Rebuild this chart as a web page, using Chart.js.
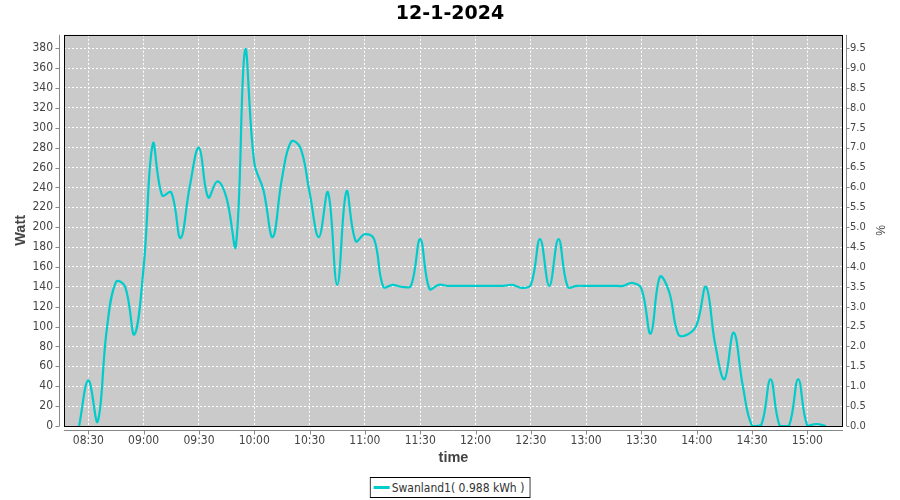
<!DOCTYPE html>
<html>
<head>
<meta charset="utf-8">
<script src="https://cdn.jsdelivr.net/npm/chart.js@4.4.1/dist/chart.umd.min.js"></script>
<style>
  body { margin: 0; background: #fff; }
  #wrap { position: relative; width: 900px; height: 500px; background: #fff; }
  #legend {
    position: absolute; top: 477px; left: 50%; transform: translateX(-50%);
    height: 19px; border: 1px solid #000; background: #fff;
    display: flex; align-items: center; padding: 0 5px 0 3px;
    font: 12px 'DejaVu Sans Condensed', 'Liberation Sans', sans-serif; color: #333; white-space: nowrap;
  }
  #legend .swatch { display: inline-block; width: 16px; height: 3px; margin-right: 2px; }
</style>
</head>
<body>
<div id="wrap">
  <canvas id="chartCanvas" width="900" height="500"></canvas>
  <div id="legend"></div>
</div>
<script>
// data (5 minute samples)
const times = ['08:25','08:30','08:35','08:40','08:45','08:50','08:55','09:00','09:05',
  '09:10','09:15','09:20','09:25','09:30','09:35','09:40','09:45','09:50','09:55',
  '10:00','10:05','10:10','10:15','10:20','10:25','10:30','10:35','10:40','10:45',
  '10:50','10:55','11:00','11:05','11:10','11:15','11:20','11:25','11:30','11:35',
  '11:40','11:45','11:50','11:55','12:00','12:05','12:10','12:15','12:20','12:25',
  '12:30','12:35','12:40','12:45','12:50','12:55','13:00','13:05','13:10','13:15',
  '13:20','13:25','13:30','13:35','13:40','13:45','13:50','13:55','14:00','14:05',
  '14:10','14:15','14:20','14:25','14:30','14:35','14:40','14:45','14:50','14:55',
  '15:00','15:05','15:10'];
const watts = [0, 46, 4, 97, 145, 140, 92, 160, 284,
  232, 235, 189, 241, 280, 230, 246, 229, 181, 378,
  265, 237, 190, 249, 286, 280, 235, 190, 235, 142,
  236, 186, 193, 188, 140, 142, 140, 141, 188, 138,
  142, 141, 141, 141, 141, 141, 141, 141, 142, 139,
  142, 188, 141, 188, 140, 141, 141, 141, 141, 141,
  141, 144, 138, 93, 150, 135, 92, 92, 102, 140,
  82, 47, 94, 40, 0, 1, 47, 0, 0, 47,
  0, 2, 0];
const seriesName = 'Swanland1( 0.988 kWh )';
const chartTitle = '12-1-2024';

//helpers
function toMinutes(t){
    const p=t.split(':');
    return parseInt(p[0])*60+parseInt(p[1]);
}
function pad(n){
    return (n<10?'0':'')+n;
}

const lineColor='#00cccc';
const textColor='#444444';
const tickFont={family:"'DejaVu Sans Condensed', 'Liberation Sans', sans-serif", size:12};
const points=times.map((t,i)=>({x:toMinutes(t),y:watts[i]}));

//plot background, frame, axis lines and tick marks
const plotFrame={
    id:'plotFrame',
    beforeDraw(chart){
        const {ctx,chartArea:a}=chart;
        ctx.save();
        ctx.fillStyle='#cacaca';
        ctx.fillRect(a.left,a.top,a.right-a.left,a.bottom-a.top);
        ctx.restore();
    },
    afterDatasetsDraw(chart){
        const {ctx,chartArea:a}=chart;
        ctx.save();
        ctx.strokeStyle='#000';
        ctx.lineWidth=1;
        ctx.strokeRect(Math.round(a.left)+0.5,Math.round(a.top)+0.5,Math.round(a.right-a.left)-1,Math.round(a.bottom-a.top));
        ctx.restore();
    },
    afterDraw(chart){
        const {ctx,chartArea:a,scales}=chart;
        const l=Math.round(a.left)-4.5, r=Math.round(a.right)+3.5, b=Math.round(a.bottom)+4.5;
        ctx.save();
        ctx.strokeStyle='#888';
        ctx.lineWidth=1;
        ctx.beginPath();
        ctx.moveTo(l,a.top);ctx.lineTo(l,a.bottom);
        ctx.moveTo(r,a.top);ctx.lineTo(r,a.bottom);
        ctx.moveTo(a.left,b);ctx.lineTo(a.right,b);
        scales.y.ticks.forEach(t=>{
            const py=Math.round(scales.y.getPixelForValue(t.value))+0.5;
            ctx.moveTo(l-4,py);ctx.lineTo(l,py);
        });
        scales.y1.ticks.forEach(t=>{
            const py=Math.round(scales.y1.getPixelForValue(t.value))+0.5;
            ctx.moveTo(r,py);ctx.lineTo(r+3,py);
        });
        scales.x.ticks.forEach(t=>{
            const px=Math.round(scales.x.getPixelForValue(t.value))+0.5;
            ctx.moveTo(px,b);ctx.lineTo(px,b+4);
        });
        ctx.stroke();
        ctx.restore();
    }
};

const config={
    type:'line',
    data:{
        datasets:[{
            label:seriesName,
            data:points,
            borderColor:lineColor,
            backgroundColor:lineColor,
            borderWidth:2.2,
            pointRadius:0,
            tension:0.4,
            fill:false,
            clip:0
        }]
    },
    options:{
        responsive:false,
        animation:false,
        devicePixelRatio:1,
        layout:{padding:{top:0,bottom:30,left:0,right:0}},
        plugins:{
            legend:{display:false},
            tooltip:{enabled:false},
            title:{
                display:true,
                text:chartTitle,
                color:'#000',
                font:{family:"'DejaVu Sans', sans-serif",size:19,weight:'bold'},
                padding:{top:3,bottom:9}
            }
        },
        scales:{
            x:{
                type:'linear',
                min:496.8,
                max:919.3,
                afterFit(scale){scale.height=44;},
                border:{display:false,dash:[2,2]},
                grid:{color:'#ffffff',lineWidth:1,drawTicks:false},
                ticks:{stepSize:30,includeBounds:false,autoSkip:false,maxRotation:0,padding:8,color:textColor,font:tickFont,
                    callback:v=>pad(Math.floor(v/60))+':'+pad(v%60)},
                title:{display:true,text:'time',color:textColor,
                    font:{family:"'Liberation Sans', sans-serif",size:14.5,weight:'bold'},padding:{top:0,bottom:3}}
            },
            y:{
                position:'left',
                min:0,
                max:393.5,
                afterFit(scale){scale.width=64;},
                border:{display:false,dash:[2,2]},
                grid:{color:'#ffffff',lineWidth:1,drawTicks:false},
                ticks:{stepSize:20,includeBounds:false,padding:11,color:textColor,font:tickFont},
                title:{display:true,text:'Watt',color:textColor,
                    font:{family:"'Liberation Sans', sans-serif",size:14.5,weight:'bold'},padding:{top:12,bottom:0}}
            },
            y1:{
                position:'right',
                min:0,
                max:393.5/40,
                afterFit(scale){scale.width=57;},
                border:{display:false},
                grid:{drawOnChartArea:false,drawTicks:false},
                ticks:{stepSize:0.5,includeBounds:false,padding:7,color:textColor,
                    font:{family:tickFont.family,size:11},callback:v=>v.toFixed(1)},
                title:{display:true,text:'%',color:textColor,
                    font:{family:"'Liberation Sans', sans-serif",size:12},padding:{top:13,bottom:0}}
            }
        }
    },
    plugins:[plotFrame]
};

const myChart=new Chart(document.getElementById('chartCanvas'),config);

//legend box under the chart, built from the dataset
const legendDiv=document.getElementById('legend');
myChart.data.datasets.forEach(ds=>{
    const sw=document.createElement('span');
    sw.className='swatch';
    sw.style.background=ds.borderColor;
    legendDiv.appendChild(sw);
    const txt=document.createElement('span');
    txt.textContent=ds.label;
    legendDiv.appendChild(txt);
});
</script>
</body>
</html>
